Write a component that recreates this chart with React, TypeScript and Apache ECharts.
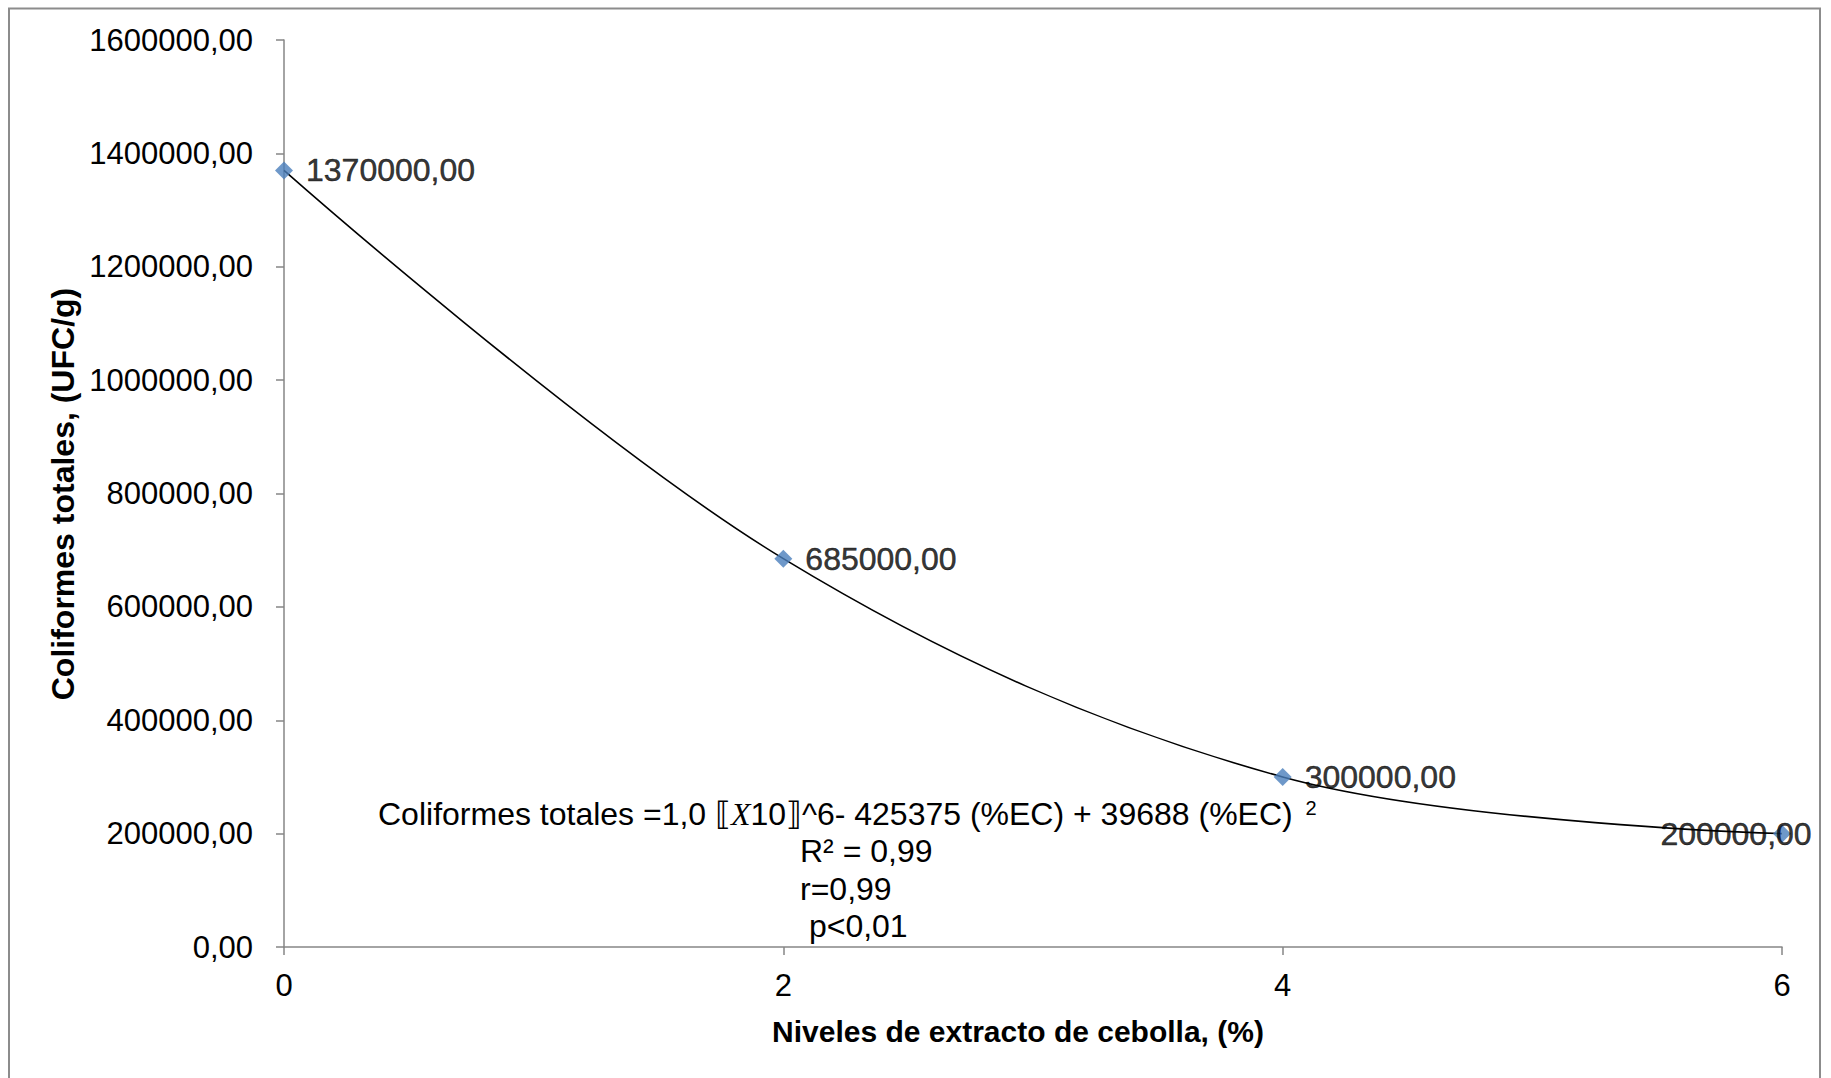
import React, { useEffect, useRef } from "react";
import * as echarts from "echarts";

// ---- Data ----
const nivelesExtracto = [0, 2, 4, 6];
const coliformesTotales = [1370000, 685000, 300000, 200000];
const xAxisMin = 0;
const xAxisMax = 6;
const xAxisStep = 2;
const yAxisMin = 0;
const yAxisMax = 1600000;
const yAxisStep = 200000;

const xAxisTitle = "Niveles de extracto de cebolla, (%)";
const yAxisTitle = "Coliformes totales, (UFC/g)";
const equationMain = "Coliformes totales =1,0 {br|⟦}{mx|X}10{br|⟧}^6- 425375 (%EC) + 39688 (%EC) {sup|2}";
const statsLines = ["R² = 0,99", "r=0,99", " p<0,01"];

const FONT = "'Liberation Sans', Arial, sans-serif";

export default function App() {
  const ref = useRef<HTMLDivElement>(null);

  useEffect(() => {
    if (!ref.current) return;
    const chart = echarts.init(ref.current, null, { renderer: "svg" });
    const last = nivelesExtracto.length - 1;

    const scatterData = nivelesExtracto.map((x, i) => {
      const item: any = { value: [x, coliformesTotales[i]] };
      if (i === last) {
        item.label = {
          position: "inside",
          offset: [-46, 0],
          color: "#000000",
          textBorderColor: "#000000",
          textBorderWidth: 0.5,
        };
      }
      return item;
    });

    const lineData = nivelesExtracto.map((x, i) => [x, coliformesTotales[i]]);

    chart.setOption({
      animation: false,
      backgroundColor: "#ffffff",
      textStyle: { fontFamily: FONT },
      grid: { left: 284, right: 49, top: 40, bottom: 131, containLabel: false },
      xAxis: {
        type: "value",
        min: xAxisMin,
        max: xAxisMax,
        interval: xAxisStep,
        splitLine: { show: false },
        axisLine: { lineStyle: { color: "#868686", width: 1.5 } },
        axisTick: { show: true, length: 8, lineStyle: { color: "#868686", width: 1.5 } },
        axisLabel: { color: "#000000", fontSize: 31, fontFamily: FONT, margin: 23 },
      },
      yAxis: {
        type: "value",
        min: yAxisMin,
        max: yAxisMax,
        interval: yAxisStep,
        splitLine: { show: false },
        axisLine: { show: true, lineStyle: { color: "#868686", width: 1.5 } },
        axisTick: { show: true, length: 8, lineStyle: { color: "#868686", width: 1.5 } },
        axisLabel: {
          color: "#000000",
          fontSize: 31,
          fontFamily: FONT,
          margin: 31,
          formatter: (v: number) => `${v},00`,
        },
      },
      series: [
        {
          type: "line",
          data: lineData,
          smooth: 0.35,
          symbol: "none",
          lineStyle: { color: "#000000", width: 1.6 },
          z: 2,
          silent: true,
        },
        {
          type: "scatter",
          data: scatterData,
          symbol: "diamond",
          symbolSize: 18,
          itemStyle: { color: "#4a7ebb" },
          z: 3,
          label: {
            show: true,
            position: "right",
            distance: 13,
            color: "#000000",
            textBorderColor: "#000000",
            textBorderWidth: 0.5,
            fontSize: 32,
            fontFamily: FONT,
            formatter: (p: any) => `${p.value[1]},00`,
          },
        },
      ],
      graphic: [
        {
          type: "rect",
          shape: { x: 9, y: 8.5, width: 1811, height: 1100 },
          style: { fill: "none", stroke: "#8c8c8c", lineWidth: 2 },
          silent: true,
          z: 0,
        },
        {
          type: "text",
          x: 63,
          y: 494,
          rotation: Math.PI / 2,
          style: {
            text: yAxisTitle,
            font: `bold 32px ${FONT}`,
            fill: "#000000",
            align: "center",
            verticalAlign: "middle",
          },
        },
        {
          type: "text",
          x: 1018,
          y: 1031,
          style: {
            text: xAxisTitle,
            font: `bold 30px ${FONT}`,
            fill: "#000000",
            align: "center",
            verticalAlign: "middle",
          },
        },
        {
          type: "text",
          x: 378,
          y: 814,
          style: {
            text: equationMain,
            fontSize: 32,
            fontFamily: FONT,
            fill: "#000000",
            align: "left",
            verticalAlign: "middle",
            rich: {
              br: { fontSize: 32, fontFamily: "'DejaVu Sans', sans-serif", fill: "#000000" },
              mx: { fontSize: 32, fontFamily: "'Liberation Serif', serif", fontStyle: "italic", fill: "#000000" },
              sup: { fontSize: 20, fontFamily: FONT, fill: "#000000", verticalAlign: "top", padding: [0, 0, 0, 4] },
            },
          },
        },
        ...statsLines.map((t, i) => ({
          type: "text",
          x: 800,
          y: 851 + i * 37.5,
          style: {
            text: t,
            fontSize: 32,
            fontFamily: FONT,
            fill: "#000000",
            align: "left",
            verticalAlign: "middle",
          },
        })),
      ],
    });

    return () => chart.dispose();
  }, []);

  return (
    <div
      ref={ref}
      style={{ position: "fixed", left: 0, top: 0, width: 1831, height: 1078, background: "#fff" }}
    />
  );
}
